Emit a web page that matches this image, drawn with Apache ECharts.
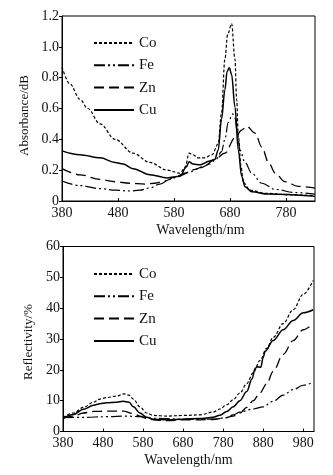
<!DOCTYPE html>
<html><head><meta charset="utf-8">
<script src="https://cdn.jsdelivr.net/npm/echarts@6/dist/echarts.min.js"></script>
<style>html,body{margin:0;padding:0;background:#fff}#c{width:333px;height:475px}</style>
</head><body><div id="c"></div>
<script>
// ---- data ----
const seriesNames = ['Co', 'Fe', 'Zn', 'Cu'];
const absXTicks = [380, 480, 580, 680, 780];
const absYTicks = [0, 0.2, 0.4, 0.6, 0.8, 1.0, 1.2];
const refXTicks = [380, 480, 580, 680, 780, 880, 980];
const refYTicks = [0, 10, 20, 30, 40, 50, 60];

// Absorbance (dB) vs wavelength (nm)
const absCo = [[380,0.87],[394,0.76],[412,0.66],[426,0.60],[448,0.50],[475,0.40],[507,0.31],[537,0.25],[568,0.20],[591,0.18],[600,0.22],[607,0.31],[614,0.30],[623,0.28],[635,0.28],[648,0.30],[659,0.37],[665,0.57],[671,0.92],[676,1.08],[683,1.15],[689,0.92],[692,0.66],[695,0.42],[700,0.22],[704,0.12],[716,0.07],[743,0.05],[787,0.04],[832,0.035]];
const absFe = [[380,0.13],[412,0.10],[448,0.08],[475,0.07],[501,0.065],[519,0.07],[537,0.085],[555,0.11],[573,0.14],[591,0.165],[609,0.19],[627,0.215],[644,0.24],[655,0.27],[665,0.32],[671,0.40],[677,0.51],[685,0.565],[689,0.54],[693,0.45],[698,0.33],[707,0.25],[719,0.18],[737,0.115],[761,0.075],[796,0.055],[832,0.045]];
const absZn = [[380,0.21],[412,0.17],[448,0.14],[475,0.125],[501,0.115],[528,0.11],[546,0.115],[564,0.13],[582,0.155],[600,0.18],[618,0.205],[635,0.23],[653,0.27],[671,0.31],[689,0.41],[701,0.46],[710,0.485],[725,0.44],[737,0.35],[749,0.25],[761,0.18],[778,0.126],[802,0.095],[832,0.083]];
const absCu = [[380,0.325],[412,0.30],[448,0.28],[475,0.25],[489,0.24],[507,0.21],[537,0.17],[568,0.15],[591,0.16],[602,0.22],[607,0.255],[614,0.24],[627,0.235],[644,0.26],[653,0.27],[659,0.33],[665,0.53],[671,0.72],[675,0.84],[679,0.865],[683,0.82],[689,0.61],[695,0.33],[701,0.16],[707,0.093],[719,0.06],[748,0.045],[832,0.03]];

// Reflectivity (%) vs wavelength (nm)
const refCo = [[380,4.5],[406,6],[431,7.8],[456,9.5],[472,10.5],[489,11],[514,11.5],[532,12.2],[545,11.8],[556,10.5],[572,8],[589,6],[606,5.2],[639,5],[680,5.2],[722,5.4],[755,6.3],[772,7.3],[789,8.7],[805,10.3],[822,12.5],[839,15.5],[855,19],[872,23],[889,27],[905,30.5],[930,35],[955,39.5],[980,44.5],[1005,49]];
const refFe = [[380,4.5],[431,4.6],[489,4.8],[539,5],[572,4.8],[606,4.3],[680,4],[755,4],[789,4.5],[805,5.4],[822,6.3],[855,7.3],[880,8],[905,9.8],[930,11.8],[955,13.6],[980,15],[1005,16]];
const refZn = [[380,4.3],[406,5],[431,6],[456,6.5],[489,6.6],[530,6.6],[556,5.8],[572,5],[589,4.2],[606,3.8],[622,3.6],[639,3.5],[680,3.8],[722,3.8],[755,3.9],[780,4.3],[805,5],[822,6],[839,7.8],[855,10],[872,12.5],[889,15.5],[905,19.5],[930,25],[955,29.5],[980,33],[1005,35]];
const refCu = [[380,4.3],[406,5.5],[431,7.2],[456,8.5],[472,9],[489,9.3],[514,9.5],[530,9.8],[545,9.5],[556,8],[572,6],[589,4.6],[606,4],[639,3.8],[680,4],[722,4.2],[755,4.6],[772,5.3],[789,6.5],[805,8],[822,10],[839,13],[852,17],[860,20.5],[866,21],[874,20.8],[880,24],[885,26],[905,29.5],[930,33],[955,36],[980,38.5],[1005,39.5]];

// ---- styling ----
const FONT = 'Liberation Serif';
const lineStyles = {
  Co: {type: [3, 2], width: 1.2},
  Fe: {type: [11, 3, 2, 3, 2, 3], width: 1.2},
  Zn: {type: [10, 5], width: 1.3},
  Cu: {type: 'solid', width: 1.5}
};
const txt = {fontFamily: FONT, fontSize: 14, color: '#111'};

function mkSeries(name, data, idx) {
  return {
    type: 'line', name: name, data: data,
    xAxisIndex: idx, yAxisIndex: idx,
    showSymbol: false, symbol: 'none',
    smooth: 0.35, smoothMonotone: 'x',
    lineStyle: Object.assign({color: '#000'}, lineStyles[name]),
    itemStyle: {color: '#000'},
    animation: false
  };
}
function xAxis(idx, min, max, ticks, gap, pad) {
  return {
    type: 'value', gridIndex: idx, min: min, max: max,
    axisLine: {lineStyle: {color: '#000', width: 1}},
    axisTick: {inside: true, length: 3, customValues: ticks, lineStyle: {color: '#000'}},
    axisLabel: Object.assign({customValues: ticks, margin: 5}, txt),
    splitLine: {show: false},
    name: 'Wavelength/nm', nameLocation: 'middle', nameGap: gap,
    nameTextStyle: Object.assign({padding: pad}, txt)
  };
}
function yAxis(idx, min, max, ticks, fmt, name, gap, pad) {
  return {
    type: 'value', gridIndex: idx, min: min, max: max,
    axisLine: {lineStyle: {color: '#000', width: 1}},
    axisTick: {inside: false, length: 3, customValues: ticks, lineStyle: {color: '#000'}},
    axisLabel: Object.assign({customValues: ticks, margin: 3, formatter: fmt}, txt),
    splitLine: {show: false},
    name: name, nameLocation: 'middle', nameGap: gap,
    nameTextStyle: Object.assign({}, txt, {padding: pad, fontSize: 13})
  };
}
function legend(top) {
  return {
    orient: 'vertical', left: 93, top: top, padding: 0,
    itemWidth: 40, itemHeight: 14, itemGap: 7.3, itemTextGap: 6,
    selectedMode: false, data: seriesNames,
    itemStyle: {opacity: 0},
    textStyle: {fontFamily: FONT, fontSize: 15, color: '#111'}
  };
}

const chart = echarts.init(document.getElementById('c'), null, {renderer: 'canvas'});
chart.setOption({
  backgroundColor: '#fff',
  animation: false,
  grid: [
    {left: 62, top: 16, width: 253, height: 185, show: true, borderColor: '#000', borderWidth: 1},
    {left: 63, top: 246.5, width: 251, height: 185, show: true, borderColor: '#000', borderWidth: 1}
  ],
  legend: [legend(35.5), legend(266.5)],
  xAxis: [
    xAxis(0, 380, 832, absXTicks, 22, [0, 0, 0, 24]),
    xAxis(1, 380, 1007, refXTicks, 22, [0, 0, 0, 0])
  ],
  yAxis: [
    yAxis(0, 0, 1.2, absYTicks, v => v === 0 ? '0' : v.toFixed(1), 'Absorbance/dB', 21, [0, 14, 0, 0]),
    yAxis(1, 0, 60, refYTicks, v => String(v), 'Reflectivity/%', 14, [0, 6, 0, 0])
  ],
  series: [
    mkSeries('Co', absCo, 0), mkSeries('Fe', absFe, 0), mkSeries('Zn', absZn, 0), mkSeries('Cu', absCu, 0),
    mkSeries('Co', refCo, 1), mkSeries('Fe', refFe, 1), mkSeries('Zn', refZn, 1), mkSeries('Cu', refCu, 1)
  ]
});
</script>
</body></html>
